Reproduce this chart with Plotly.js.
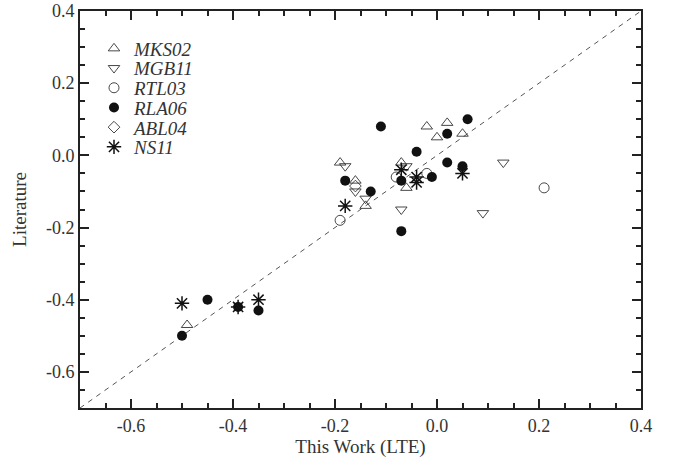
<!DOCTYPE html>
<html>
<head>
<meta charset="utf-8">
<script src="https://cdn.plot.ly/plotly-3.0.1.min.js"></script>
<style>html,body{margin:0;padding:0;background:#fff}#chart{width:680px;height:464px}</style>
</head>
<body>
<div id="chart"></div>
<script>
// Data
const mks02_x = [-0.49, -0.19, -0.16, -0.14, -0.07, -0.06, -0.02, 0.00, 0.02, 0.05];
const mks02_y = [-0.47, -0.02, -0.07, -0.14, -0.02, -0.09, 0.08, 0.05, 0.09, 0.06];

const mgb11_x = [-0.18, -0.16, -0.14, -0.07, -0.06, 0.09, 0.13];
const mgb11_y = [-0.03, -0.10, -0.12, -0.15, -0.03, -0.16, -0.02];

const rtl03_x = [-0.19, -0.08, -0.02, 0.21];
const rtl03_y = [-0.18, -0.06, -0.05, -0.09];

const rla06_x = [-0.50, -0.45, -0.39, -0.35, -0.18, -0.13, -0.11, -0.07, -0.07, -0.04, -0.01, 0.02, 0.02, 0.05, 0.06];
const rla06_y = [-0.50, -0.40, -0.42, -0.43, -0.07, -0.10, 0.08, -0.21, -0.07, 0.01, -0.06, -0.02, 0.06, -0.03, 0.10];

const abl04_x = [-0.16];
const abl04_y = [-0.085];

const ns11_x = [-0.50, -0.39, -0.35, -0.18, -0.07, -0.04, -0.04, 0.05];
const ns11_y = [-0.41, -0.42, -0.40, -0.14, -0.04, -0.06, -0.075, -0.05];

const oneToOne = [-0.7, 0.4];

const seriesNames = ['MKS02', 'MGB11', 'RTL03', 'RLA06', 'ABL04', 'NS11'];

const xTickVals = [-0.6, -0.4, -0.2, 0.0, 0.2, 0.4];
const xTickText = ['-0.6', '-0.4', '-0.2', '0.0', '0.2', '0.4'];
const yTickVals = [-0.6, -0.4, -0.2, 0.0, 0.2, 0.4];
const yTickText = ['-0.6', '-0.4', '-0.2', '0.0', '0.2', '0.4'];

const legendIds = ['legend', 'legend2', 'legend3', 'legend4', 'legend5', 'legend6'];

const openLine = {color: '#333', width: 0.9};
const traces = [
  {x: oneToOne, y: oneToOne, mode: 'lines', showlegend: false, hoverinfo: 'skip',
   line: {color: '#555', width: 1, dash: '5px,5px'}},
  {x: mks02_x, y: mks02_y, name: seriesNames[0], legend: legendIds[0], mode: 'markers', type: 'scatter',
   marker: {symbol: 'triangle-up-open', size: 10, color: '#333', line: openLine}},
  {x: mgb11_x, y: mgb11_y, name: seriesNames[1], legend: legendIds[1], mode: 'markers', type: 'scatter',
   marker: {symbol: 'triangle-down-open', size: 10, color: '#333', line: openLine}},
  {x: rtl03_x, y: rtl03_y, name: seriesNames[2], legend: legendIds[2], mode: 'markers', type: 'scatter',
   marker: {symbol: 'circle-open', size: 10, color: '#333', line: openLine}},
  {x: rla06_x, y: rla06_y, name: seriesNames[3], legend: legendIds[3], mode: 'markers', type: 'scatter',
   marker: {symbol: 'circle', size: 10, color: '#111', line: {width: 0}}},
  {x: abl04_x, y: abl04_y, name: seriesNames[4], legend: legendIds[4], mode: 'markers', type: 'scatter',
   marker: {symbol: 'diamond-open', size: 9, color: '#333', line: openLine}},
  {x: ns11_x, y: ns11_y, name: seriesNames[5], legend: legendIds[5], mode: 'markers', type: 'scatter',
   marker: {symbol: 'asterisk-open', size: 12, color: '#111', line: {color: '#111', width: 1.5}}}
];

const serif = '"Liberation Serif", "Times New Roman", serif';
const tickFont = {family: serif, size: 18, color: '#333'};
const axisCommon = {
  showgrid: false, zeroline: false, showline: true, linecolor: '#222', linewidth: 2,
  mirror: 'allticks', ticks: 'inside', ticklen: 9, tickwidth: 2, tickcolor: '#222',
  tickmode: 'array', tickfont: tickFont,
  minor: {tickmode: 'linear', dtick: 0.05, tick0: 0, ticks: 'inside', ticklen: 5, tickwidth: 2, tickcolor: '#222', showgrid: false}
};

const margin = {l: 80, r: 39, t: 11, b: 56};
const plotH = 464 - margin.t - margin.b;
const plotW = 680 - margin.l - margin.r;

const layout = {
  width: 680, height: 464,
  margin: margin,
  paper_bgcolor: '#fff', plot_bgcolor: '#fff',
  showlegend: true,
  xaxis: Object.assign({}, axisCommon, {range: [-0.7, 0.4], tickvals: xTickVals, ticktext: xTickText,
    title: {text: 'This Work (LTE)', font: {family: serif, size: 19, color: '#333'}, standoff: 5}}),
  yaxis: Object.assign({}, axisCommon, {range: [-0.7, 0.4], tickvals: yTickVals, ticktext: yTickText,
    title: {text: 'Literature', font: {family: serif, size: 19, color: '#333'}, standoff: 14}})
};

// one legend per series so the rows can be spaced like the reference key
legendIds.forEach(function (id, i) {
  const rowPx = 48.5 + 19.7 * i;
  layout[id] = {
    x: (94 - margin.l) / plotW, xanchor: 'left',
    y: 1 - (rowPx - margin.t) / plotH, yanchor: 'middle',
    bgcolor: 'rgba(0,0,0,0)', borderwidth: 0,
    font: {family: serif, size: 19, color: '#333', style: 'italic'}
  };
});

Plotly.newPlot('chart', traces, layout, {displayModeBar: false, staticPlot: true});
</script>
</body>
</html>
